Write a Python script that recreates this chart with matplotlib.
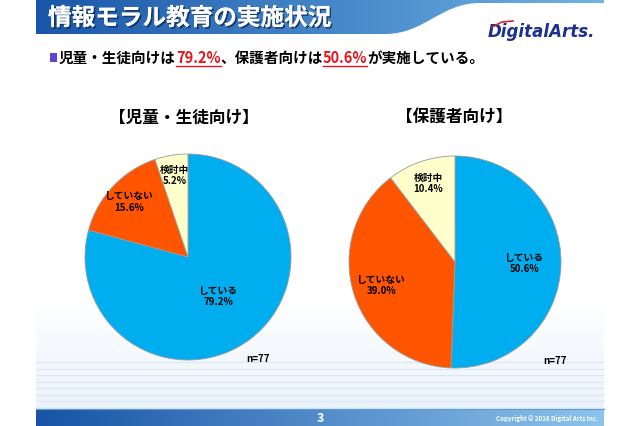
import numpy as np
import matplotlib
matplotlib.use("Agg")
import matplotlib.pyplot as plt
from matplotlib.path import Path
from matplotlib.patches import PathPatch, Rectangle
import matplotlib.patheffects as pe

plt.rcParams["font.family"] = ["Noto Sans CJK JP", "DejaVu Sans"]

# data
categories = ["している", "していない", "検討中"]
students = [79.2, 15.6, 5.2]
parents = [50.6, 39.0, 10.4]
chart_titles = ["【児童・生徒向け】", "【保護者向け】"]
sample_note = "n=77"
pie_colors = ["#00AEEF", "#FF5500", "#FFFFCC"]
# radial position of each label (fraction of radius)
label_dist_students = [0.48, 0.78, 0.80]
label_dist_parents = [0.66, 0.73, 0.78]

W, H = 640, 426
fig = plt.figure(figsize=(W / 100, H / 100), dpi=100)
bg = fig.add_axes([0, 0, 1, 1])
bg.set_xlim(0, W)
bg.set_ylim(H, 0)
bg.axis("off")


def gradient_fill(ax, x0, x1, y0, y1, c0, c1, clip=None, vertical=False):
    c0 = np.array(matplotlib.colors.to_rgb(c0))
    c1 = np.array(matplotlib.colors.to_rgb(c1))
    t = np.linspace(0, 1, 256)
    grad = c0[None, :] * (1 - t[:, None]) + c1[None, :] * t[:, None]
    img = grad[:, None, :] if vertical else grad[None, :, :]
    im = ax.imshow(img, extent=[x0, x1, y1, y0], aspect="auto", zorder=1,
                   interpolation="bilinear")
    if clip is not None:
        im.set_clip_path(clip)
    return im


# slide background: faint stripes near bottom
gradient_fill(bg, 36, 604, 300, 409, "#ffffff", "#eaf2fb", vertical=True)
for y in np.arange(362, 408, 6.5):
    bg.plot([36, 604], [y, y], color="#dbe7f5", lw=0.8, zorder=2)

# header band with curved edge
verts = [(36, 0), (604, 0), (604, 3), (480, 3),
         (440, 3), (425, 34), (385, 34),
         (36, 34), (36, 0)]
codes = [Path.MOVETO, Path.LINETO, Path.LINETO, Path.LINETO,
         Path.CURVE4, Path.CURVE4, Path.CURVE4,
         Path.LINETO, Path.CLOSEPOLY]
hdr = PathPatch(Path(verts, codes), facecolor="none", edgecolor="none")
bg.add_patch(hdr)
gradient_fill(bg, 36, 604, 0, 35, "#1a56a8", "#6fb4e6", clip=hdr)

bg.text(48, 18, "情報モラル教育の実施状況", color="white", fontsize=17,
        fontweight="bold", va="center", ha="left", zorder=5,
        path_effects=[pe.withSimplePatchShadow(offset=(1.2, -1.2),
                                               shadow_rgbFace="#0b2350", alpha=0.7),
                      pe.Normal()])

# logo
bg.text(595, 32, "DigitalArts.", color="#1d2f8f", fontsize=12, fontstyle="italic",
        fontweight="bold", family=["DejaVu Sans"], ha="right", va="center", zorder=5)
bg.plot([492, 502, 513], [27, 22, 21], color="#d0262d", lw=1.2, zorder=6)

# subtitle built from segments
bg.add_patch(Rectangle((50, 53), 7, 9, facecolor="#5b44d6", edgecolor="none", zorder=5))
segments = [("児童・生徒向けは", "black"), ("79.2%", "#e8141b"),
            ("、保護者向けは", "black"), ("50.6%", "#e8141b"),
            ("が実施している。", "black")]
renderer = fig.canvas.get_renderer()
x = 59
for s, c in segments:
    t = bg.text(x, 58, s, color=c, fontsize=10.5, fontweight="bold",
                ha="left", va="center", zorder=5)
    bb = t.get_window_extent(renderer=renderer)
    if c != "black":
        bg.plot([x, x + bb.width], [65.5, 65.5], color=c, lw=1.0, zorder=5)
    x += bb.width

# footer
gradient_fill(bg, 36, 604, 409, 426, "#1853a6", "#8cc4ec")
bg.plot([36, 604], [408.5, 408.5], color="#5d9ad8", lw=0.8, zorder=3)
bg.text(320, 418, "3", color="white", fontsize=9, fontweight="bold",
        ha="center", va="center", zorder=5)
bg.text(598, 418, "Copyright © 2016 Digital Arts Inc.", color="white", fontsize=4.5,
        fontweight="bold", ha="right", va="center", zorder=5)


def draw_pie(cx, cy, r, values, dists, title, title_xy, note_xy):
    ax = fig.add_axes([(cx - r) / W, 1 - (cy + r) / H, 2 * r / W, 2 * r / H])
    wedges, _ = ax.pie(values, colors=pie_colors, startangle=90, counterclock=False,
                       wedgeprops=dict(edgecolor="#9a9a9a", linewidth=0.6))
    for w, cat, v, d in zip(wedges, categories, values, dists):
        ang = np.deg2rad((w.theta1 + w.theta2) / 2)
        ax.text(d * np.cos(ang), d * np.sin(ang), f"{cat}\n{v:.1f}%",
                ha="center", va="center", fontsize=7, fontweight="bold",
                linespacing=1.15)
    ax.set_xlim(-1, 1)
    ax.set_ylim(-1, 1)
    ax.axis("off")
    bg.text(title_xy[0], title_xy[1], title, fontsize=12, fontweight="bold",
            ha="center", va="center", zorder=5)
    bg.text(note_xy[0], note_xy[1], sample_note, fontsize=7, fontweight="bold",
            ha="center", va="center", zorder=5)


draw_pie(188, 257, 103, students, label_dist_students, chart_titles[0],
         (184, 118), (258, 359))
draw_pie(455, 262, 106, parents, label_dist_parents, chart_titles[1],
         (454, 117), (555, 361))

fig.savefig("out.png", dpi=100)
